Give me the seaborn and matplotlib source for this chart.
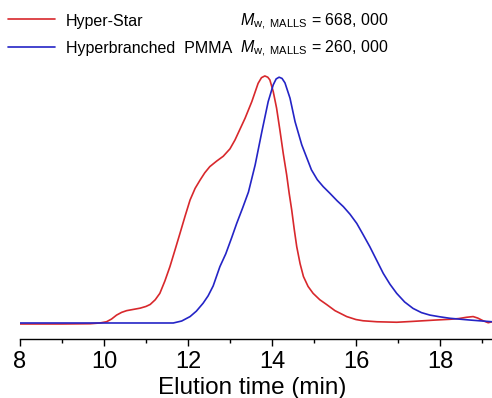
import numpy as np
import pandas as pd
import matplotlib
matplotlib.use("Agg")
import matplotlib.pyplot as plt
from matplotlib.ticker import MultipleLocator
import seaborn as sns

# GPC traces (normalized detector response vs. elution time)
star_time = [8.0, 9.0, 9.67, 9.9, 10.06, 10.18, 10.30, 10.42, 10.54, 10.70,
             10.86, 11.00, 11.10, 11.22, 11.33, 11.45, 11.57, 11.69, 11.81,
             11.93, 12.05, 12.17, 12.29, 12.40, 12.52, 12.68, 12.84, 13.00,
             13.12, 13.24, 13.36, 13.52, 13.67, 13.75, 13.83, 13.90, 13.95,
             14.03, 14.11, 14.19, 14.27, 14.35, 14.41, 14.47, 14.53, 14.59,
             14.67, 14.75, 14.86, 14.98, 15.14, 15.30, 15.50, 15.78, 16.00,
             16.17, 16.50, 16.97, 17.30, 17.60, 17.90, 18.24, 18.45, 18.63,
             18.79, 18.90, 19.03, 19.15, 19.24]
star_signal = [-0.004, -0.004, -0.003, 0.0, 0.005, 0.016, 0.032, 0.043, 0.050,
               0.055, 0.060, 0.067, 0.075, 0.094, 0.120, 0.170, 0.228, 0.295,
               0.363, 0.432, 0.498, 0.545, 0.579, 0.608, 0.633, 0.655, 0.675,
               0.705, 0.741, 0.785, 0.829, 0.896, 0.970, 0.993, 1.000, 0.995,
               0.984, 0.937, 0.870, 0.780, 0.685, 0.600, 0.525, 0.458, 0.380,
               0.309, 0.240, 0.188, 0.148, 0.120, 0.094, 0.075, 0.050, 0.026,
               0.014, 0.009, 0.005, 0.003, 0.006, 0.009, 0.012, 0.015, 0.018,
               0.023, 0.026, 0.020, 0.009, 0.001, 0.005]

pmma_time = [8.0, 11.0, 11.65, 11.85, 12.05, 12.20, 12.36, 12.48, 12.60, 12.76,
             12.90, 13.04, 13.16, 13.30, 13.44, 13.60, 13.76, 13.91, 14.03,
             14.10, 14.17, 14.24, 14.31, 14.43, 14.55, 14.71, 14.94, 15.08,
             15.22, 15.38, 15.55, 15.70, 15.86, 16.02, 16.17, 16.33, 16.49,
             16.65, 16.81, 16.97, 17.16, 17.36, 17.56, 17.76, 18.00, 18.24,
             18.71, 19.24]
pmma_signal = [0.0, 0.0, 0.0, 0.008, 0.026, 0.048, 0.080, 0.110, 0.150, 0.228,
               0.280, 0.345, 0.403, 0.465, 0.530, 0.640, 0.775, 0.896, 0.964,
               0.988, 0.995, 0.990, 0.972, 0.910, 0.815, 0.721, 0.620, 0.580,
               0.552, 0.525, 0.495, 0.471, 0.440, 0.403, 0.358, 0.309, 0.255,
               0.201, 0.157, 0.120, 0.085, 0.059, 0.042, 0.032, 0.025, 0.019,
               0.012, 0.005]

series_names = ["Hyper-Star", "Hyperbranched  PMMA"]
mw_labels = ["668, 000", "260, 000"]
colors = ["#d8282c", "#2424c6"]

df = pd.concat([
    pd.DataFrame({"time": star_time, "signal": star_signal, "sample": series_names[0]}),
    pd.DataFrame({"time": pmma_time, "signal": pmma_signal, "sample": series_names[1]}),
])

sns.set_style("white")
plt.rcParams["font.family"] = ["Liberation Sans", "DejaVu Sans"]
plt.rcParams["mathtext.fontset"] = "custom"
plt.rcParams["mathtext.rm"] = "Liberation Sans"
plt.rcParams["mathtext.it"] = "Liberation Sans:italic"
plt.rcParams["text.color"] = "black"
plt.rcParams["axes.labelcolor"] = "black"
plt.rcParams["xtick.color"] = "black"

W, H = 492, 398
fig = plt.figure(figsize=(W / 100, H / 100), dpi=100)
ax = fig.add_axes([20 / W, (H - 339) / H, 472 / W, 329 / H])

sns.lineplot(data=df, x="time", y="signal", hue="sample", palette=colors,
             hue_order=series_names, sort=False, estimator=None,
             linewidth=1.2, ax=ax, legend=False)

ax.set_xlim(8, 19.24)
ax.set_ylim(-0.0648, 1.267)
for s in ["left", "right", "top"]:
    ax.spines[s].set_visible(False)
ax.spines["bottom"].set_linewidth(1.0)
ax.spines["bottom"].set_color("black")
ax.set_yticks([])
ax.xaxis.set_major_locator(MultipleLocator(2))
ax.xaxis.set_minor_locator(MultipleLocator(1))
ax.tick_params(axis="x", which="major", direction="out", length=5, width=1.0,
               labelsize=17, pad=4, bottom=True, color="black", labelcolor="black")
ax.tick_params(axis="x", which="minor", direction="out", length=3, width=1.0,
               bottom=True, color="black")
ax.set_xlabel("Elution time (min)", fontsize=17.5, color="black")
ax.xaxis.set_label_coords((252 - 20) / 472, (339 - 394) / 329)
ax.xaxis.label.set_verticalalignment("baseline")
ax.set_ylabel("")

# legend rows with molecular weight annotations
line_y = [19, 47]
text_y = [26, 52.5]
for name, mw, c, ly, ty in zip(series_names, mw_labels, colors, line_y, text_y):
    fig.add_artist(plt.Line2D([8 / W, 55 / W], [1 - ly / H, 1 - ly / H], color=c,
                              lw=1.2, transform=fig.transFigure))
    fig.text(66 / W, 1 - ty / H, name, fontsize=11.5, va="baseline", ha="left",
             color="black")
    fig.text(240 / W, 1 - ty / H, r"$M_{\mathrm{w,\ MALLS}}$" + " = " + mw,
             fontsize=11.5, va="baseline", ha="left", color="black")

fig.savefig("out.png", dpi=100, facecolor="white")
